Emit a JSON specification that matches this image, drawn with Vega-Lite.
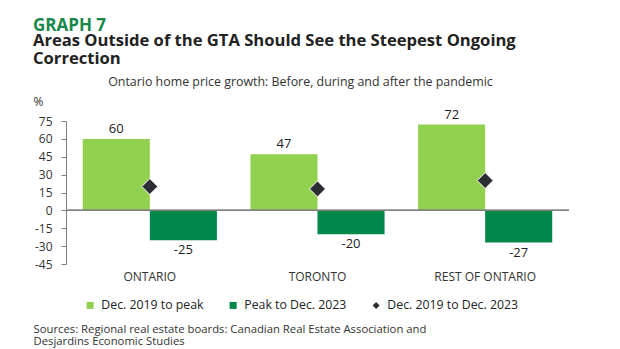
{
  "$schema": "https://vega.github.io/schema/vega-lite/v6.json",
  "width": 503,
  "height": 143,
  "autosize": {"type": "none"},
  "padding": {"left": 66, "top": 121, "right": 51, "bottom": 85},
  "background": "white",
  "config": {
    "view": {"stroke": null},
    "font": "Open Sans",
    "axis": {"labelFont": "Open Sans", "titleFont": "Open Sans", "labelColor": "#333333", "titleColor": "#333333", "grid": false},
    "axisY": {"labelOverlap": false, "labelBound": false, "labelFlush": false},
    "legend": {"labelFont": "Open Sans"}
  },
  "title": {
    "text": "GRAPH 7",
    "subtitle": ["Areas Outside of the GTA Should See the Steepest Ongoing", "Correction"],
    "anchor": "start",
    "frame": "group",
    "dx": -33,
    "offset": 6,
    "color": "#16884a",
    "font": "Open Sans",
    "fontSize": 17,
    "fontWeight": "bold",
    "subtitleColor": "#222222",
    "subtitleFont": "Open Sans",
    "subtitleFontSize": 16.6,
    "subtitleFontWeight": "bold",
    "subtitleLineHeight": 18,
    "subtitlePadding": -2
  },
  "data": {
    "values": [
      {"region": "ONTARIO", "series": "Dec. 2019 to peak", "value": 60},
      {"region": "ONTARIO", "series": "Peak to Dec. 2023", "value": -25},
      {"region": "ONTARIO", "series": "Dec. 2019 to Dec. 2023", "value": 20},
      {"region": "TORONTO", "series": "Dec. 2019 to peak", "value": 47},
      {"region": "TORONTO", "series": "Peak to Dec. 2023", "value": -20},
      {"region": "TORONTO", "series": "Dec. 2019 to Dec. 2023", "value": 18},
      {"region": "REST OF ONTARIO", "series": "Dec. 2019 to peak", "value": 72},
      {"region": "REST OF ONTARIO", "series": "Peak to Dec. 2023", "value": -27},
      {"region": "REST OF ONTARIO", "series": "Dec. 2019 to Dec. 2023", "value": 25}
    ]
  },
  "resolve": {"axis": {"x": "independent", "y": "independent"}},
  "layer": [
    {
      "transform": [{"filter": "datum.series !== 'Dec. 2019 to Dec. 2023'"}],
      "mark": {"type": "bar"},
      "encoding": {
        "x": {
          "field": "region", "type": "nominal", "sort": ["ONTARIO", "TORONTO", "REST OF ONTARIO"],
          "scale": {"paddingInner": 0.2, "paddingOuter": 0.1},
          "axis": {
            "orient": "bottom", "labelAngle": 0, "ticks": false, "domain": false, "labelPadding": 7,
            "labelFontSize": 12, "labelColor": "#333333",
            "title": ["Sources: Regional real estate boards: Canadian Real Estate Association and", "Desjardins Economic Studies"],
            "titleX": -33, "titleY": 68, "titleAlign": "left", "titleBaseline": "alphabetic", "titleAngle": 0,
            "titleFontSize": 11.3, "titleFontWeight": "normal", "titleLineHeight": 12.5, "titleColor": "#333333"
          }
        },
        "xOffset": {"field": "series", "type": "nominal", "sort": ["Dec. 2019 to peak", "Peak to Dec. 2023"], "scale": {"paddingInner": 0, "paddingOuter": 0}},
        "y": {
          "field": "value", "type": "quantitative",
          "scale": {"domain": [-45, 75], "nice": false, "zero": false},
          "axis": {
            "values": [-45, -30, -15, 0, 15, 30, 45, 60, 75],
            "labelExpr": "'' + datum.value",
            "labelOverlap": false,
            "title": "%", "titleAngle": 0, "titleX": -33, "titleY": -16, "titleAlign": "left", "titleBaseline": "alphabetic",
            "titleFontSize": 12, "titleFontWeight": "normal",
            "domain": true, "domainColor": "#808080", "ticks": true, "tickColor": "#808080", "tickSize": 5,
            "labelFontSize": 12, "labelPadding": 9
          }
        },
        "color": {
          "field": "series", "type": "nominal",
          "scale": {"domain": ["Dec. 2019 to peak", "Peak to Dec. 2023", "Dec. 2019 to Dec. 2023"], "range": ["#92d050", "#00884b", "#2b2d33"]},
          "legend": {
            "orient": "none", "legendX": 18, "legendY": 178, "direction": "horizontal", "title": null,
            "labelFontSize": 12.3, "labelColor": "#222222", "symbolSize": 49, "columnPadding": 23, "labelOffset": 5, "padding": 0,
            "symbolStrokeWidth": 0
          }
        }
      }
    },
    {
      "transform": [{"filter": "datum.series === 'Dec. 2019 to peak'"}],
      "mark": {"type": "text", "baseline": "alphabetic", "dy": -6, "fontSize": 13, "color": "#222222", "font": "Open Sans"},
      "encoding": {
        "x": {"field": "region", "type": "nominal", "sort": ["ONTARIO", "TORONTO", "REST OF ONTARIO"], "axis": null},
        "xOffset": {"field": "series", "type": "nominal", "sort": ["Dec. 2019 to peak", "Peak to Dec. 2023"]},
        "y": {"field": "value", "type": "quantitative", "axis": null},
        "text": {"field": "value", "type": "nominal"}
      }
    },
    {
      "transform": [{"filter": "datum.series === 'Peak to Dec. 2023'"}],
      "mark": {"type": "text", "baseline": "top", "dy": 4, "fontSize": 13, "color": "#222222", "font": "Open Sans"},
      "encoding": {
        "x": {"field": "region", "type": "nominal", "sort": ["ONTARIO", "TORONTO", "REST OF ONTARIO"], "axis": null},
        "xOffset": {"field": "series", "type": "nominal", "sort": ["Dec. 2019 to peak", "Peak to Dec. 2023"]},
        "y": {"field": "value", "type": "quantitative", "axis": null},
        "text": {"field": "value", "type": "nominal"}
      }
    },
    {
      "mark": {"type": "rule", "color": "#808080", "strokeWidth": 1},
      "encoding": {"y": {"datum": 0, "axis": null}}
    },
    {
      "transform": [{"filter": "datum.series === 'Dec. 2019 to Dec. 2023'"}],
      "mark": {"type": "point", "filled": true, "size": 256, "stroke": "white", "strokeWidth": 1, "opacity": 1},
      "encoding": {
        "x": {
          "field": "region", "type": "nominal", "sort": ["ONTARIO", "TORONTO", "REST OF ONTARIO"],
          "axis": {
            "orient": "top", "labels": false, "ticks": false, "domain": false,
            "title": "Ontario home price growth: Before, during and after the pandemic",
            "titleX": 234, "titleY": -36, "titleAlign": "center", "titleBaseline": "alphabetic",
            "titleFontSize": 12.4, "titleFontWeight": "normal", "titleColor": "#333333"
          }
        },
        "y": {"field": "value", "type": "quantitative", "axis": null},
        "color": {"field": "series", "type": "nominal"},
        "shape": {
          "field": "series", "type": "nominal",
          "scale": {"domain": ["Dec. 2019 to peak", "Peak to Dec. 2023", "Dec. 2019 to Dec. 2023"], "range": ["square", "square", "diamond"]}
        }
      }
    }
  ]
}
